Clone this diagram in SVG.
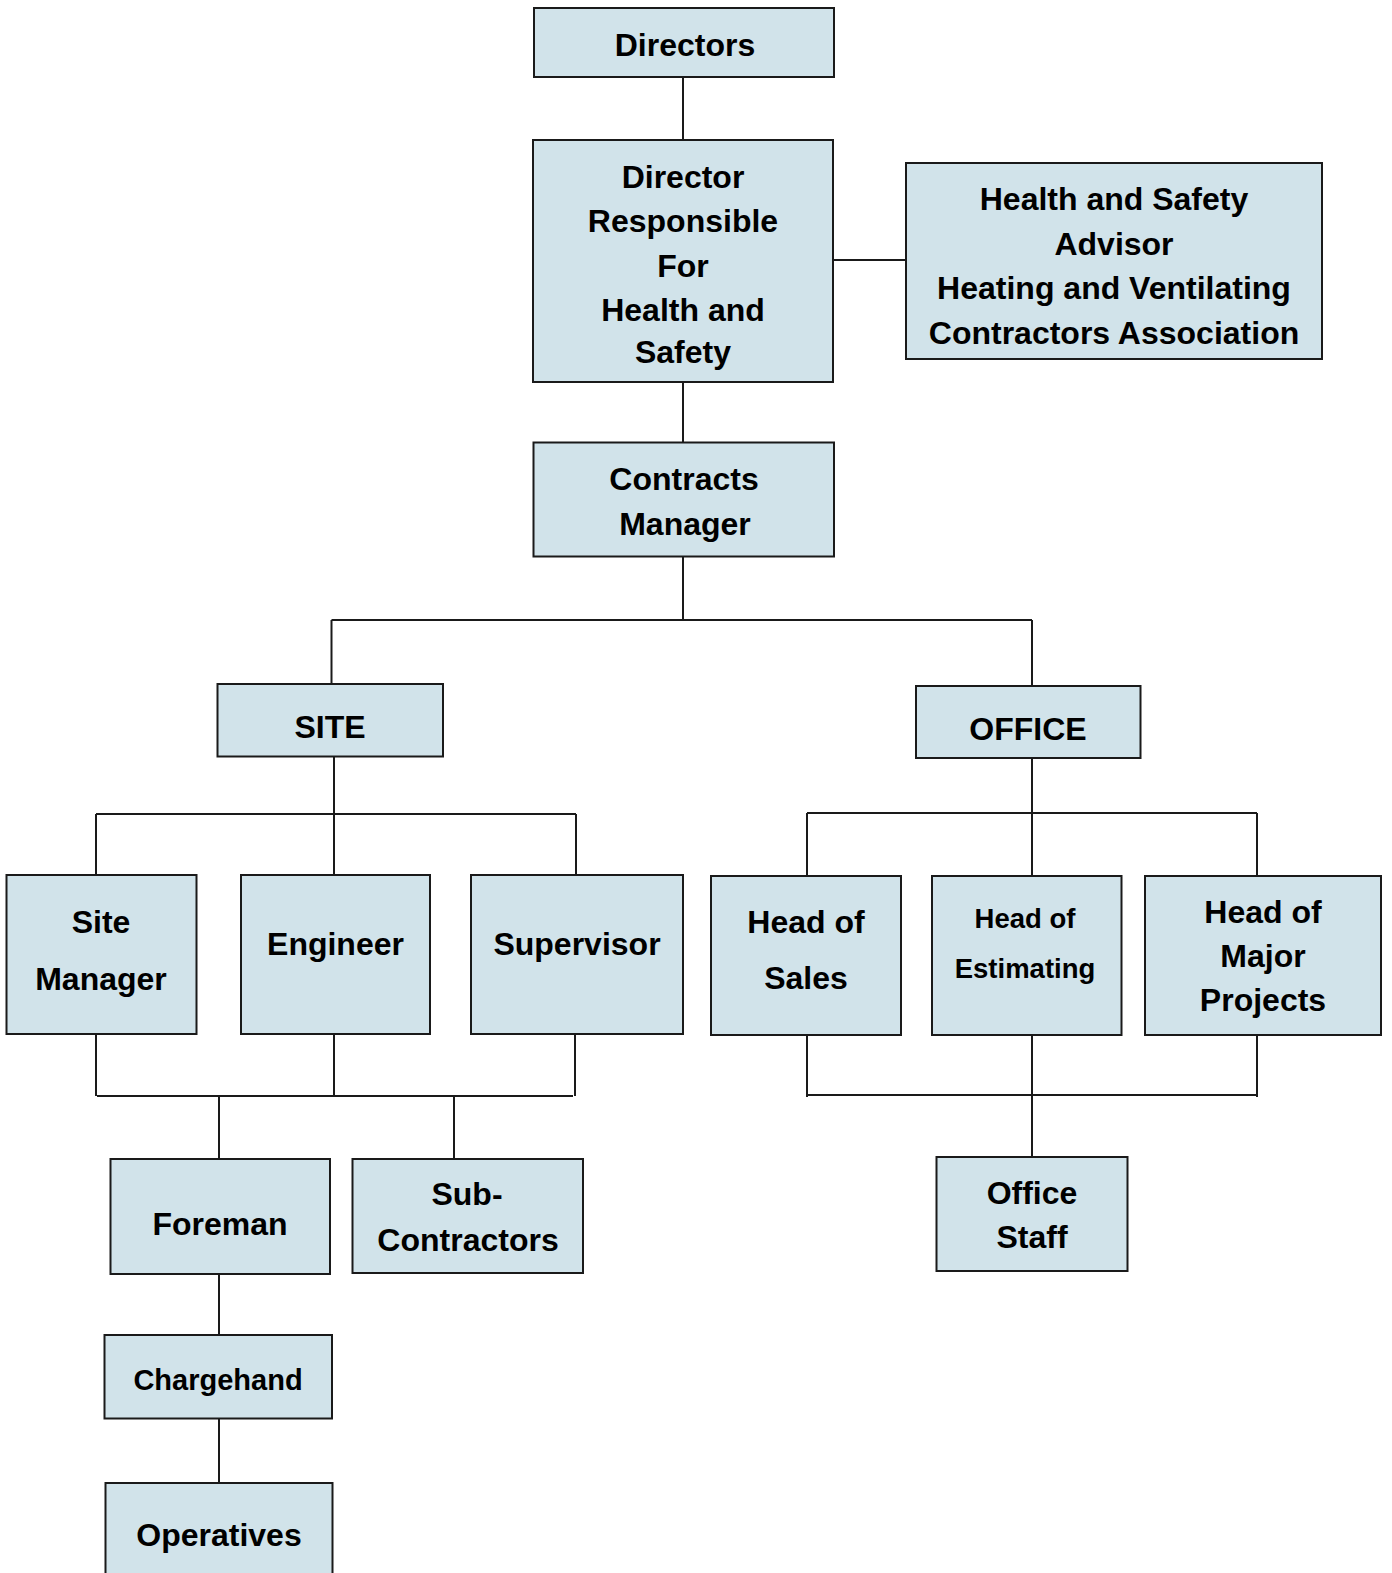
<svg xmlns="http://www.w3.org/2000/svg" width="1392" height="1573" viewBox="0 0 1392 1573">
<style>
.box{fill:#d1e3ea;stroke:#1a1a1a;stroke-width:2}
.t{font-family:"Liberation Sans",Arial,Helvetica,sans-serif;font-weight:bold;font-size:32px;fill:#000;text-anchor:middle}
.s{font-size:27.5px}
.c{font-size:29px}
#connectors line{stroke:#1a1a1a;stroke-width:2}
</style>
<rect width="1392" height="1573" fill="#ffffff"/>
<g id="connectors">
<line x1="683" y1="77" x2="683" y2="140"/>
<line x1="833" y1="260" x2="906" y2="260"/>
<line x1="683" y1="382" x2="683" y2="442"/>
<line x1="683" y1="557" x2="683" y2="620"/>
<line x1="331.5" y1="620" x2="1032" y2="620"/>
<line x1="331.5" y1="620" x2="331.5" y2="684"/>
<line x1="1032" y1="620" x2="1032" y2="686"/>
<line x1="334" y1="757" x2="334" y2="875"/>
<line x1="96" y1="814" x2="576" y2="814"/>
<line x1="96" y1="814" x2="96" y2="875"/>
<line x1="576" y1="814" x2="576" y2="876"/>
<line x1="96" y1="1034" x2="96" y2="1096"/>
<line x1="334" y1="1034" x2="334" y2="1096"/>
<line x1="575" y1="1034" x2="575" y2="1096"/>
<line x1="97" y1="1096" x2="573" y2="1096"/>
<line x1="219" y1="1096" x2="219" y2="1159"/>
<line x1="454" y1="1096" x2="454" y2="1159"/>
<line x1="219" y1="1274" x2="219" y2="1335"/>
<line x1="219" y1="1419" x2="219" y2="1483"/>
<line x1="1032" y1="758" x2="1032" y2="876"/>
<line x1="807" y1="813" x2="1257" y2="813"/>
<line x1="807" y1="813" x2="807" y2="876"/>
<line x1="1257" y1="813" x2="1257" y2="876"/>
<line x1="807" y1="1035" x2="807" y2="1097"/>
<line x1="1257" y1="1035" x2="1257" y2="1097"/>
<line x1="807" y1="1095" x2="1258" y2="1095"/>
<line x1="1032" y1="1035" x2="1032" y2="1157"/>
</g>
<g id="directors"><rect class="box" x="534" y="8" width="300" height="69"/><text class="t" x="685" y="56">Directors</text></g>
<g id="director-hs"><rect class="box" x="533" y="140" width="300" height="242"/>
<text class="t" x="683" y="188">Director</text><text class="t" x="683" y="232">Responsible</text><text class="t" x="683" y="277">For</text><text class="t" x="683" y="321">Health and</text><text class="t" x="683" y="363">Safety</text></g>
<g id="hs-advisor"><rect class="box" x="906" y="163" width="416" height="196"/>
<text class="t" x="1114" y="210">Health and Safety</text><text class="t" x="1114" y="254.5">Advisor</text><text class="t" x="1114" y="299">Heating and Ventilating</text><text class="t" x="1114" y="343.5">Contractors Association</text></g>
<g id="contracts-manager"><rect class="box" x="533.5" y="442.5" width="300.5" height="114"/>
<text class="t" x="684" y="490">Contracts</text><text class="t" x="685" y="535">Manager</text></g>
<g id="site"><rect class="box" x="217.5" y="684" width="225.5" height="72.5"/><text class="t" x="330" y="738">SITE</text></g>
<g id="office"><rect class="box" x="916" y="686" width="224.5" height="72"/><text class="t" x="1028" y="740">OFFICE</text></g>
<g id="site-manager"><rect class="box" x="6.5" y="875" width="190" height="159"/>
<text class="t" x="101" y="933">Site</text><text class="t" x="101" y="990">Manager</text></g>
<g id="engineer"><rect class="box" x="241" y="875" width="189" height="159"/><text class="t" x="335.5" y="955">Engineer</text></g>
<g id="supervisor"><rect class="box" x="471" y="875" width="212" height="159"/><text class="t" x="577" y="955">Supervisor</text></g>
<g id="head-sales"><rect class="box" x="711" y="876" width="190" height="159"/>
<text class="t" x="806" y="933">Head of</text><text class="t" x="806" y="989">Sales</text></g>
<g id="head-estimating"><rect class="box" x="932" y="876" width="189.5" height="159"/>
<text class="t s" x="1025" y="928">Head of</text><text class="t s" x="1025" y="978">Estimating</text></g>
<g id="head-major-projects"><rect class="box" x="1145" y="876" width="236" height="159"/>
<text class="t" x="1263" y="923">Head of</text><text class="t" x="1263" y="967">Major</text><text class="t" x="1263" y="1011">Projects</text></g>
<g id="foreman"><rect class="box" x="110.5" y="1159" width="219.5" height="115"/><text class="t" x="220" y="1235">Foreman</text></g>
<g id="sub-contractors"><rect class="box" x="352.5" y="1159" width="230.5" height="114"/>
<text class="t" x="467" y="1205">Sub-</text><text class="t" x="468" y="1251">Contractors</text></g>
<g id="chargehand"><rect class="box" x="104.5" y="1335" width="227.5" height="83.5"/><text class="t c" x="218" y="1390">Chargehand</text></g>
<g id="operatives"><rect class="box" x="105.5" y="1483" width="227" height="120"/><text class="t" x="219" y="1546">Operatives</text></g>
<g id="office-staff"><rect class="box" x="936.5" y="1157" width="191" height="114"/>
<text class="t" x="1032" y="1204">Office</text><text class="t" x="1032" y="1248">Staff</text></g>
</svg>
